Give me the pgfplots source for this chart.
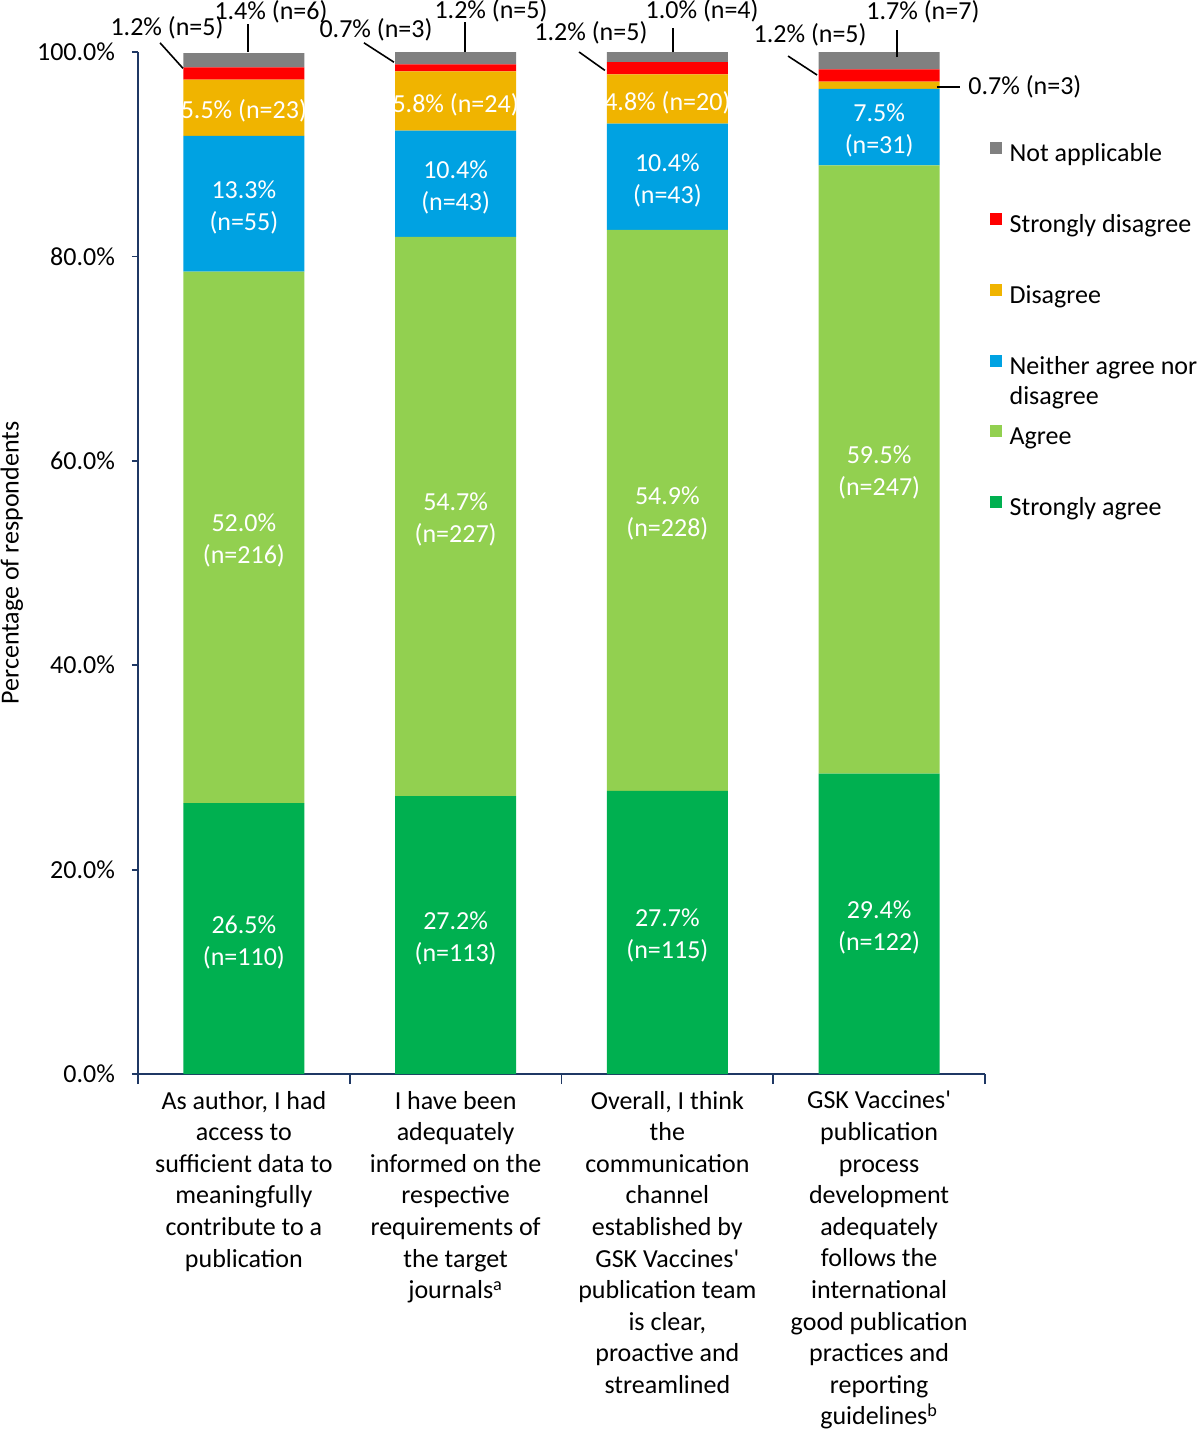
\documentclass[border=0pt]{standalone}
\usepackage{pgfplots}
\pgfplotsset{compat=1.18}
\usepackage{fontspec}
\setmainfont{Carlito}[Ligatures=TeXOff]

\definecolor{sagree}{RGB}{0,176,80}
\definecolor{agree}{RGB}{146,208,80}
\definecolor{neither}{RGB}{0,162,226}
\definecolor{disagree}{RGB}{240,180,0}
\definecolor{sdisagree}{RGB}{255,0,0}
\definecolor{notapp}{RGB}{128,128,128}
\definecolor{axisblue}{RGB}{31,56,100}
\newcommand\lbl{\fontsize{13}{16}\selectfont}
\tikzset{
  inlbl/.style={text=white, align=center, font=\lbl, inner sep=0pt, yshift=-1.7pt},
  outlbl/.style={text=black, font=\lbl, inner sep=0pt},
  leader/.style={black, line width=0.8pt},
}

% value labels, drawn after the bars
\newcommand\barlabels{%
\node[inlbl] at (axis cs:0,13.25) {26.5\%\\(n=110)};
\node[inlbl] at (axis cs:0,52.5) {52.0\%\\(n=216)};
\node[inlbl] at (axis cs:0,85.15) {13.3\%\\(n=55)};
\node[inlbl] at (axis cs:0,94.55) {5.5\% (n=23)};
\node[inlbl] at (axis cs:1,13.6) {27.2\%\\(n=113)};
\node[inlbl] at (axis cs:1,54.55) {54.7\%\\(n=227)};
\node[inlbl] at (axis cs:1,87.1) {10.4\%\\(n=43)};
\node[inlbl] at (axis cs:1,95.2) {5.8\% (n=24)};
\node[inlbl] at (axis cs:2,13.85) {27.7\%\\(n=115)};
\node[inlbl] at (axis cs:2,55.15) {54.9\%\\(n=228)};
\node[inlbl] at (axis cs:2,87.8) {10.4\%\\(n=43)};
\node[inlbl] at (axis cs:2,95.4) {4.8\% (n=20)};
\node[inlbl] at (axis cs:3,14.7) {29.4\%\\(n=122)};
\node[inlbl] at (axis cs:3,59.15) {59.5\%\\(n=247)};
\node[inlbl] at (axis cs:3,92.65) {7.5\%\\(n=31)};
% small segments with leader lines
\draw[leader] (axis cs:-0.2875,98.4) -- (axis cs:-0.396,100.9);
\node[outlbl] at (axis cs:-0.363,102.4) {1.2\% (n=5)};
\draw[leader] (axis cs:0.019,100) -- (axis cs:0.019,102.7);
\node[outlbl] at (axis cs:0.128,103.9) {1.4\% (n=6)};
\draw[leader] (axis cs:0.709,99.0) -- (axis cs:0.567,100.9);
\node[outlbl] at (axis cs:0.624,102.15) {0.7\% (n=3)};
\draw[leader] (axis cs:1.044,100) -- (axis cs:1.044,102.9);
\node[outlbl] at (axis cs:1.167,104.0) {1.2\% (n=5)};
\draw[leader] (axis cs:1.705,98.2) -- (axis cs:1.583,100.0);
\node[outlbl] at (axis cs:1.639,101.9) {1.2\% (n=5)};
\draw[leader] (axis cs:2.027,100) -- (axis cs:2.027,102.3);
\node[outlbl] at (axis cs:2.164,104.0) {1.0\% (n=4)};
\draw[leader] (axis cs:2.707,97.75) -- (axis cs:2.570,99.6);
\node[outlbl] at (axis cs:2.674,101.7) {1.2\% (n=5)};
\draw[leader] (axis cs:3.084,99.5) -- (axis cs:3.084,102.2);
\node[outlbl] at (axis cs:3.207,103.9) {1.7\% (n=7)};
\draw[leader] (axis cs:3.273,96.6) -- (axis cs:3.382,96.6);
\node[outlbl, anchor=west] at (axis cs:3.420,96.6) {0.7\% (n=3)};
}

\begin{document}
\begin{tikzpicture}
\useasboundingbox (-69pt,-179pt) rectangle (531pt,537pt);
\begin{axis}[
    scale only axis,
    width=423.5pt, height=511pt,
    ybar stacked,
    bar width=60.5pt,
    xmin=-0.5, xmax=3.5,
    ymin=0, ymax=100,
    clip=false,
    axis x line*=bottom, axis y line*=left,
    axis line style={axisblue, line width=0.9pt},
    tick align=outside,
    major tick length=3pt,
    ytick={0,20,40,60,80,100},
    yticklabels={0.0\%,20.0\%,40.0\%,60.0\%,80.0\%,100.0\%},
    ytick style={axisblue, line width=0.9pt},
    yticklabel style={xshift=-5pt},
    xtick={0,1,2,3},
    xtick style={draw=none},
    xticklabels={
      {As author, I had\\access to\\sufficient data to\\meaningfully\\contribute to a\\publication},
      {I have been\\adequately\\informed on the\\respective\\requirements of\\the target\\journals\textsuperscript{a}},
      {Overall, I think\\the\\communication\\channel\\established by\\GSK Vaccines'\\publication team\\is clear,\\proactive and\\streamlined},
      {GSK Vaccines'\\publication\\process\\development\\adequately\\follows the\\international\\good publication\\practices and\\reporting\\guidelines\textsuperscript{b}}
    },
    tick label style={font=\lbl, text=black},
    xticklabel style={align=center, anchor=north, yshift=-2pt, font=\fontsize{13}{15.8}\selectfont},
    extra x ticks={-0.5,0.5,1.5,2.5,3.5},
    extra x tick labels={},
    extra x tick style={major tick length=5pt, xtick style={draw=axisblue, line width=0.9pt}},
    /pgf/number format/assume math mode=true,
    every axis y label/.style={at={(axis description cs:-0.149,0.5)}, rotate=90, anchor=center, font=\lbl},
    ylabel={Percentage of respondents},
    legend style={draw=none, fill=none, at={(1.005,0.915)}, anchor=north west,
      inner sep=0pt, row sep=21pt, nodes={inner sep=2pt, font=\lbl}},
    legend cell align=left,
    reverse legend,
    legend image code/.code={\fill[#1] (0pt,0pt) rectangle (6pt,6pt); \path (8pt,0pt);},
    after end axis/.code={\barlabels},
]
\addplot[fill=sagree, draw=none] coordinates {(0,26.5) (1,27.2) (2,27.7) (3,29.4)};
\addlegendentry{Strongly agree}
\addplot[fill=agree, draw=none] coordinates {(0,52.0) (1,54.7) (2,54.9) (3,59.5)};
\addlegendentry{Agree}
\addplot[fill=neither, draw=none] coordinates {(0,13.3) (1,10.4) (2,10.4) (3,7.5)};
\addlegendentry{\makebox[0pt][l]{\raisebox{-15pt}[0pt][0pt]{disagree}}Neither agree nor}
\addplot[fill=disagree, draw=none] coordinates {(0,5.5) (1,5.8) (2,4.8) (3,0.7)};
\addlegendentry{Disagree}
\addplot[fill=sdisagree, draw=none] coordinates {(0,1.2) (1,0.7) (2,1.2) (3,1.2)};
\addlegendentry{Strongly disagree}
\addplot[fill=notapp, draw=none] coordinates {(0,1.4) (1,1.2) (2,1.0) (3,1.7)};
\addlegendentry{Not applicable}
\end{axis}
\end{tikzpicture}
\end{document}
